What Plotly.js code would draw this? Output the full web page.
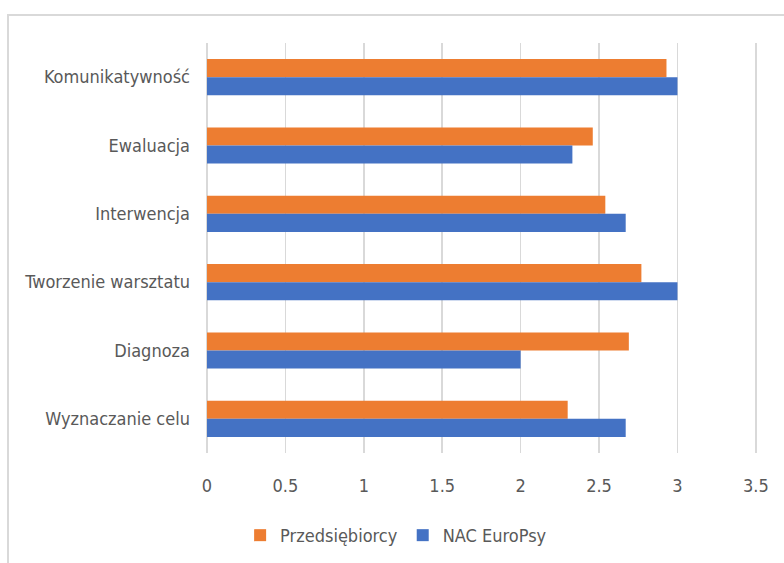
<!DOCTYPE html>
<html>
<head>
<meta charset="utf-8">
<script src="https://cdn.plot.ly/plotly-3.0.1.min.js"></script>
<style>
  html, body { margin: 0; padding: 0; background: #fff; }
  #wrap { position: relative; width: 784px; height: 563px; overflow: hidden; }
  #frame { position: absolute; left: 7px; top: 14px; width: 800px; height: 600px;
           border-top: 2px solid #D9D9D9; border-left: 2px solid #D9D9D9; box-sizing: border-box; pointer-events: none; }
  #chart { position: absolute; left: 0; top: 0; width: 784px; height: 563px; }
</style>
</head>
<body>
<div id="wrap">
  <div id="chart"></div>
  <div id="frame"></div>
</div>
<script>
const categories = ["Komunikatywność", "Ewaluacja", "Interwencja", "Tworzenie warsztatu", "Diagnoza", "Wyznaczanie celu"];
const przedsiebiorcy = [2.93, 2.46, 2.54, 2.77, 2.69, 2.30];
const nacEuroPsy = [3.0, 2.33, 2.67, 3.0, 2.0, 2.67];
const xTickVals = [0, 0.5, 1, 1.5, 2, 2.5, 3, 3.5];
const xTickText = ["0", "0.5", "1", "1.5", "2", "2.5", "3", "3.5"];

const FONT = '"DejaVu Sans Condensed", "Liberation Sans", sans-serif';
const TXT = '#595959';

const traces = [
  { type: 'bar', orientation: 'h', name: 'Przedsiębiorcy', y: categories, x: przedsiebiorcy,
    marker: { color: '#ED7D31' } },
  { type: 'bar', orientation: 'h', name: 'NAC EuroPsy', y: categories, x: nacEuroPsy,
    marker: { color: '#4472C4' } }
];

const layout = {
  width: 784, height: 563,
  margin: { l: 207, r: 25, t: 43, b: 110, autoexpand: false },
  paper_bgcolor: 'rgba(0,0,0,0)', plot_bgcolor: '#fff',
  barmode: 'group', bargap: 0.47, bargroupgap: 0,
  font: { family: FONT, size: 18, color: TXT },
  xaxis: {
    range: [0, 3.52], tickvals: xTickVals, ticktext: xTickText,
    showgrid: true, gridcolor: '#D9D9D9', gridwidth: 1.5,
    zeroline: true, zerolinecolor: '#D9D9D9', zerolinewidth: 1.5,
    showline: false, ticks: '', ticklabelstandoff: 20,
    tickfont: { family: FONT, size: 18, color: TXT }
  },
  yaxis: {
    type: 'category', autorange: 'reversed',
    showgrid: false, zeroline: false, showline: false, ticks: '',
    ticklabelstandoff: 16,
    tickfont: { family: FONT, size: 18, color: TXT }
  },
  showlegend: true,
  legend: {
    orientation: 'h', x: 0.06, xanchor: 'left', y: -0.156, yanchor: 'top',
    font: { family: FONT, size: 18, color: TXT },
    bgcolor: 'rgba(0,0,0,0)', traceorder: 'normal'
  }
};

Plotly.newPlot('chart', traces, layout, { displayModeBar: false, staticPlot: true });
</script>
</body>
</html>
